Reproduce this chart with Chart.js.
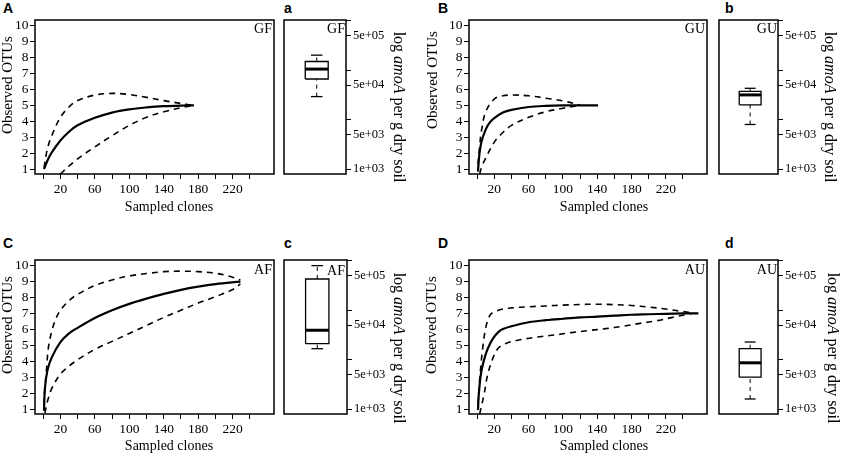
<!DOCTYPE html>
<html>
<head>
<meta charset="utf-8">
<script src="https://cdn.jsdelivr.net/npm/chart.js@4.4.1/dist/chart.umd.min.js"></script>
<style>
  body { margin: 0; background: #fff; width: 843px; height: 456px; position: relative; overflow: hidden; }
  canvas { position: absolute; }
  .tag { position: absolute; font: bold 14px "Liberation Sans", Arial, sans-serif; line-height: 1; color: #000; }
</style>
</head>
<body>
<div class="tag" style="left:3px;top:1px">A</div>
<div class="tag" style="left:284px;top:1px">a</div>
<div class="tag" style="left:438px;top:1px">B</div>
<div class="tag" style="left:725px;top:1px">b</div>
<div class="tag" style="left:3px;top:236px">C</div>
<div class="tag" style="left:284px;top:236px">c</div>
<div class="tag" style="left:438px;top:236px">D</div>
<div class="tag" style="left:725px;top:236px">d</div>

<canvas id="curveGF" width="280" height="216" style="left:0;top:0"></canvas>
<canvas id="boxGF" width="140" height="216" style="left:280px;top:0"></canvas>
<canvas id="curveGU" width="294" height="216" style="left:420px;top:0"></canvas>
<canvas id="boxGU" width="129" height="216" style="left:714px;top:0"></canvas>
<canvas id="curveAF" width="280" height="228" style="left:0;top:228px"></canvas>
<canvas id="boxAF" width="140" height="228" style="left:280px;top:228px"></canvas>
<canvas id="curveAU" width="294" height="228" style="left:420px;top:228px"></canvas>
<canvas id="boxAU" width="129" height="228" style="left:714px;top:228px"></canvas>

<script>
// rarefaction curves: sampled clones (x) vs observed OTUs, with upper / lower bounds
const gfObsX = [1, 5, 10, 20, 30, 40, 60, 80, 100, 120, 140, 160, 175];
const gfObs  = [1.0, 1.55, 2.05, 2.8, 3.35, 3.75, 4.22, 4.55, 4.75, 4.87, 4.95, 4.99, 5.0];
const gfUpX  = [1, 5, 10, 20, 30, 40, 60, 80, 100, 120, 140, 160, 175];
const gfUp   = [1.1, 2.3, 3.1, 4.25, 4.9, 5.3, 5.65, 5.75, 5.68, 5.5, 5.3, 5.12, 5.0];
const gfLoX  = [20, 30, 40, 60, 80, 100, 120, 140, 160, 175];
const gfLo   = [0.7, 1.2, 1.65, 2.4, 3.1, 3.75, 4.25, 4.6, 4.85, 5.0];

const guObsX = [1, 2, 3, 5, 10, 15, 20, 30, 40, 60, 80, 100, 120, 141];
const guObs  = [0.85, 1.6, 2.1, 2.7, 3.5, 3.95, 4.2, 4.55, 4.72, 4.9, 4.97, 5.0, 5.0, 5.0];
const guUpX  = [1, 3, 5, 10, 20, 30, 40, 60, 80, 100, 120];
const guUp   = [1.3, 2.5, 3.4, 4.6, 5.4, 5.6, 5.65, 5.6, 5.45, 5.28, 5.02];
const guLoX  = [3, 5, 10, 20, 30, 40, 60, 80, 100, 120];
const guLo   = [0.7, 1.1, 1.7, 2.7, 3.3, 3.75, 4.25, 4.6, 4.82, 5.0];

const afObsX = [1, 2, 5, 10, 20, 30, 40, 60, 80, 100, 120, 140, 160, 180, 200, 229];
const afObs  = [0.9, 2.3, 3.45, 4.25, 5.2, 5.75, 6.1, 6.72, 7.2, 7.6, 7.93, 8.23, 8.48, 8.68, 8.84, 9.0];
const afUpX  = [1, 2, 4, 6, 10, 15, 20, 30, 40, 60, 80, 100, 120, 140, 160, 180, 200, 215, 229];
const afUp   = [1.3, 2.3, 3.6, 4.85, 5.9, 6.7, 7.2, 7.8, 8.2, 8.75, 9.1, 9.35, 9.5, 9.62, 9.65, 9.62, 9.52, 9.35, 9.1];
const afLoX  = [2, 5, 10, 20, 30, 40, 60, 80, 100, 120, 140, 160, 180, 200, 220, 229];
const afLo   = [0.75, 1.5, 2.3, 3.2, 3.7, 4.1, 4.75, 5.25, 5.75, 6.25, 6.75, 7.2, 7.65, 8.05, 8.5, 8.85];

const auObsX = [1, 2, 5, 10, 15, 20, 25, 30, 40, 60, 80, 100, 120, 140, 160, 180, 200, 220, 240, 258];
const auObs  = [0.95, 2.0, 3.4, 4.45, 5.1, 5.55, 5.85, 6.02, 6.2, 6.45, 6.58, 6.67, 6.75, 6.8, 6.86, 6.92, 6.95, 6.98, 7.0, 7.0];
const auUpX  = [1, 3, 6, 10, 15, 20, 30, 40, 60, 80, 100, 120, 140, 160, 180, 200, 220, 240, 252];
const auUp   = [1.3, 2.9, 4.6, 6.1, 6.9, 7.1, 7.28, 7.35, 7.42, 7.47, 7.52, 7.56, 7.58, 7.55, 7.5, 7.4, 7.28, 7.12, 7.03];
const auLoX  = [3, 5, 8, 12, 18, 25, 35, 50, 70, 90, 110, 130, 150, 170, 190, 210, 230, 250];
const auLo   = [0.7, 1.2, 1.9, 3.1, 4.15, 4.85, 5.15, 5.35, 5.52, 5.65, 5.8, 5.93, 6.05, 6.2, 6.38, 6.55, 6.78, 7.0];

// amoA copies per g dry soil: min, q1, median, q3, max
const gfBox = [2.94e4, 6.68e4, 1.06e5, 1.51e5, 2.03e5];
const guBox = [8.0e3, 2.0e4, 3.18e4, 3.76e4, 4.33e4];
const afBox = [1.67e4, 2.11e4, 3.95e4, 4.32e5, 8.05e5];
const auBox = [1.6e3, 4.43e3, 8.65e3, 1.67e4, 2.28e4];

// axes
const cloneTicks = [0, 20, 40, 60, 80, 100, 120, 140, 160, 180, 200, 220, 240];
const cloneLabels = [20, 60, 100, 140, 180, 220];
const otuTicks = [1, 2, 3, 4, 5, 6, 7, 8, 9, 10];
const copyTicks = [1e3, 5e3, 1e4, 5e4, 1e5, 5e5, 1e6];
const copyLabelValues = [1e3, 5e3, 5e4, 5e5];
const copyLabels = ['1e+03', '5e+03', '5e+04', '5e+05'];

const SERIF = '"Liberation Serif", "Times New Roman", serif';

function pts(xs, ys) {
    return xs.map((x, i) => ({ x: x, y: ys[i] }));
}

// frame round the plot area + free text (titles, site tags)
function labels(items) {
    return {
        id: 'labels',
        afterDraw(chart) {
            const ctx = chart.ctx;
            const a = chart.chartArea;
            ctx.save();
            ctx.strokeStyle = '#000';
            ctx.lineWidth = 1.5;
            ctx.strokeRect(a.left, a.top, a.right - a.left, a.bottom - a.top);
            ctx.fillStyle = '#000';
            ctx.textBaseline = 'middle';
            ctx.textAlign = 'left';
            items.forEach(it => {
                ctx.save();
                ctx.translate(it.x, it.y);
                ctx.rotate((it.rot || 0) * Math.PI / 180);
                let w = 0;
                const parts = it.parts.map(p => {
                    const font = (p[1] ? 'italic ' : '') + it.size + 'px ' + SERIF;
                    ctx.font = font;
                    const pw = ctx.measureText(p[0]).width;
                    w += pw;
                    return { text: p[0], font: font, w: pw };
                });
                let x = it.align === 'right' ? -w : -w / 2;
                parts.forEach(p => {
                    ctx.font = p.font;
                    ctx.fillText(p.text, x, 0);
                    x += p.w;
                });
                ctx.restore();
            });
            ctx.restore();
        }
    };
}

function curveChart(id, mean, upper, lower, geo, texts) {
    const dashed = d => ({
        data: d, borderColor: '#000', borderWidth: 1.6, borderDash: [6, 5],
        pointRadius: 0, fill: false, tension: 0.35
    });
    new Chart(document.getElementById(id), {
        type: 'line',
        data: {
            datasets: [
                dashed(upper),
                dashed(lower),
                { data: mean, borderColor: '#000', borderWidth: 2.2, pointRadius: 0, fill: false, tension: 0.35 }
            ]
        },
        options: {
            responsive: false,
            animation: false,
            events: [],
            layout: { padding: { top: geo.top, right: geo.right, left: 0, bottom: 0 } },
            plugins: { legend: { display: false }, tooltip: { enabled: false } },
            scales: {
                x: {
                    type: 'linear', min: -9.5, max: 268,
                    afterBuildTicks: s => { s.ticks = cloneTicks.map(v => ({ value: v })); },
                    afterFit: s => { s.height = 42; },
                    border: { display: false },
                    grid: { drawOnChartArea: false, tickLength: 5, color: '#000', lineWidth: 1 },
                    ticks: {
                        color: '#000', font: { family: SERIF, size: 13.5 }, padding: 2,
                        autoSkip: false, maxRotation: 0,
                        callback: v => cloneLabels.includes(v) ? String(v) : ''
                    }
                },
                y: {
                    type: 'linear', min: 0.7, max: 10.35,
                    afterBuildTicks: s => { s.ticks = otuTicks.map(v => ({ value: v })); },
                    afterFit: s => { s.width = geo.left; },
                    border: { display: false },
                    grid: { drawOnChartArea: false, tickLength: 5, color: '#000', lineWidth: 1 },
                    ticks: { color: '#000', font: { family: SERIF, size: 13.5 }, padding: 1.5, autoSkip: false }
                }
            }
        },
        plugins: [labels(texts)]
    });
}

function boxChart(id, stats, geo, texts) {
    const [lo, q1, med, q3, hi] = stats;
    const half = 0.2, cap = 0.1;
    const seg = (d, w, dash) => ({
        data: d, showLine: true, borderColor: '#000', borderWidth: w,
        borderDash: dash || [], pointRadius: 0, fill: false
    });
    new Chart(document.getElementById(id), {
        type: 'scatter',
        data: {
            datasets: [
                seg([{ x: 1, y: q3 }, { x: 1, y: hi }], 1, [4, 4]),
                seg([{ x: 1, y: lo }, { x: 1, y: q1 }], 1, [4, 4]),
                seg([{ x: 1 - cap, y: hi }, { x: 1 + cap, y: hi }], 1.3),
                seg([{ x: 1 - cap, y: lo }, { x: 1 + cap, y: lo }], 1.3),
                seg([{ x: 1 - half, y: q1 }, { x: 1 + half, y: q1 }, { x: 1 + half, y: q3 },
                     { x: 1 - half, y: q3 }, { x: 1 - half, y: q1 }], 1.3),
                seg([{ x: 1 - half, y: med }, { x: 1 + half, y: med }], 3)
            ]
        },
        options: {
            responsive: false,
            animation: false,
            events: [],
            layout: { padding: { top: geo.top, left: geo.left, bottom: geo.bottom, right: 0 } },
            plugins: { legend: { display: false }, tooltip: { enabled: false } },
            scales: {
                x: { type: 'linear', min: 0.43, max: 1.51, display: false },
                y: {
                    type: 'logarithmic', position: 'right', min: 794, max: 1.047e6,
                    afterBuildTicks: s => { s.ticks = copyTicks.map(v => ({ value: v })); },
                    afterFit: s => { s.width = geo.axis; },
                    border: { display: false },
                    grid: { drawOnChartArea: false, tickLength: 5, color: '#000', lineWidth: 1 },
                    ticks: {
                        color: '#000', font: { family: SERIF, size: 12.5 }, padding: 2, autoSkip: false,
                        callback: v => {
                            const i = copyLabelValues.indexOf(v);
                            return i < 0 ? '' : copyLabels[i];
                        }
                    }
                }
            }
        },
        plugins: [labels(texts)]
    });
}

const amoaTitle = [['log '], ['amoA', true], [' per g dry soil']];

curveChart('curveGF', pts(gfObsX, gfObs), pts(gfUpX, gfUp), pts(gfLoX, gfLo),
    { left: 35, top: 20, right: 6 },
    [{ parts: [['GF']], x: 272, y: 29, size: 14, align: 'right' },
     { parts: [['Sampled clones']], x: 169, y: 207, size: 14 },
     { parts: [['Observed OTUs']], x: 8, y: 85, size: 15, rot: -90 }]);
boxChart('boxGF', gfBox, { left: 4, top: 20, bottom: 42, axis: 74 },
    [{ parts: [['GF']], x: 65, y: 29, size: 14, align: 'right' },
     { parts: amoaTitle, x: 118, y: 107, size: 16, rot: 90 }]);

curveChart('curveGU', pts(guObsX, guObs), pts(guUpX, guUp), pts(guLoX, guLo),
    { left: 49, top: 20, right: 7 },
    [{ parts: [['GU']], x: 285, y: 29, size: 14, align: 'right' },
     { parts: [['Sampled clones']], x: 184, y: 207, size: 14 },
     { parts: [['Observed OTUs']], x: 13, y: 80, size: 15, rot: -90 }]);
boxChart('boxGU', guBox, { left: 5, top: 20, bottom: 42, axis: 65 },
    [{ parts: [['GU']], x: 63, y: 29, size: 14, align: 'right' },
     { parts: amoaTitle, x: 115, y: 107, size: 16, rot: 90 }]);

curveChart('curveAF', pts(afObsX, afObs), pts(afUpX, afUp), pts(afLoX, afLo),
    { left: 35, top: 32, right: 6 },
    [{ parts: [['AF']], x: 272, y: 42, size: 14, align: 'right' },
     { parts: [['Sampled clones']], x: 169, y: 218, size: 14 },
     { parts: [['Observed OTUs']], x: 8, y: 97, size: 15, rot: -90 }]);
boxChart('boxAF', afBox, { left: 4, top: 32, bottom: 42, axis: 73 },
    [{ parts: [['AF']], x: 65, y: 43, size: 14, align: 'right' },
     { parts: amoaTitle, x: 118, y: 120, size: 16, rot: 90 }]);

curveChart('curveAU', pts(auObsX, auObs), pts(auUpX, auUp), pts(auLoX, auLo),
    { left: 49, top: 32, right: 7 },
    [{ parts: [['AU']], x: 285, y: 42, size: 14, align: 'right' },
     { parts: [['Sampled clones']], x: 184, y: 218, size: 14 },
     { parts: [['Observed OTUs']], x: 12, y: 97, size: 15, rot: -90 }]);
boxChart('boxAU', auBox, { left: 5, top: 32, bottom: 42, axis: 65 },
    [{ parts: [['AU']], x: 63, y: 42, size: 14, align: 'right' },
     { parts: amoaTitle, x: 118, y: 120, size: 16, rot: 90 }]);
</script>
</body>
</html>
